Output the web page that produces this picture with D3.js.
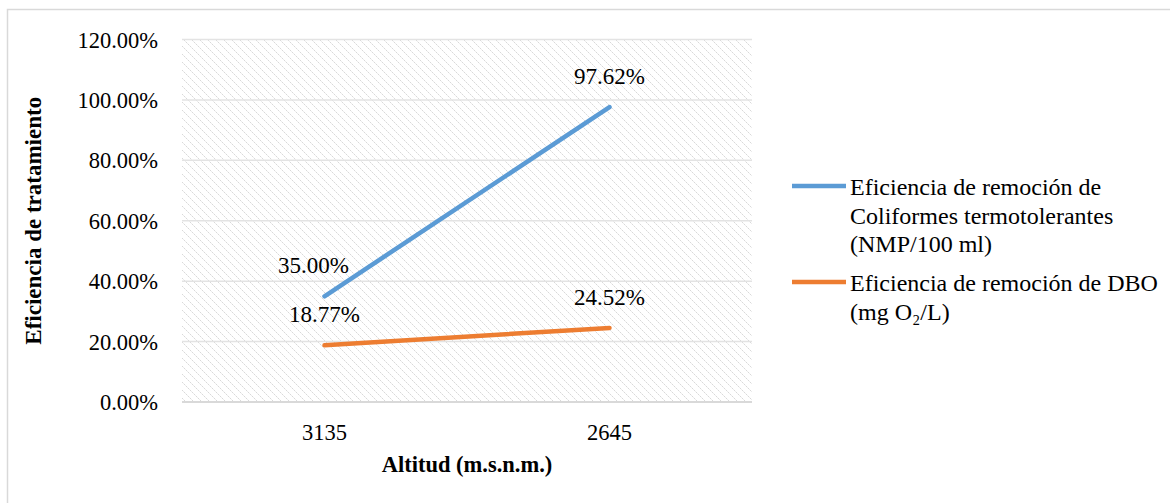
<!DOCTYPE html>
<html>
<head>
<meta charset="utf-8">
<script src="https://cdn.jsdelivr.net/npm/d3@7/dist/d3.min.js"></script>
<style>
  html, body { margin: 0; padding: 0; background: #fff; }
  svg text { font-family: "Liberation Serif", "Times New Roman", serif; fill: #000; }
</style>
</head>
<body>
<svg id="chart" width="1170" height="503"></svg>
<script>
// Altitude categories (m.s.n.m.)
const categories = ["3135", "2645"];
// Removal efficiency, in percent
const coliformes = [35.00, 97.62];
const dbo = [18.77, 24.52];
const seriesNames = [
  ["Eficiencia de remoción de", "Coliformes termotolerantes", "(NMP/100 ml)"],
  ["Eficiencia de remoción de DBO", "(mg O\u2082/L)"]
];
const seriesColors = ["#5b9bd5", "#ed7d31"];
const yTicks = [0, 20, 40, 60, 80, 100, 120];

const series = [
  { name: seriesNames[0], values: coliformes, color: seriesColors[0] },
  { name: seriesNames[1], values: dbo, color: seriesColors[1] }
];

const FS = 23;
const svg = d3.select("#chart");
const plot = { left: 182, right: 752, top: 39.5, bottom: 402 };

// Outer chart frame
svg.append("rect")
  .attr("x", 7.5).attr("y", 9.5)
  .attr("width", 1200).attr("height", 520)
  .attr("fill", "none").attr("stroke", "#d9d9d9").attr("stroke-width", 1.5);

// Light dotted downward-diagonal fill for the plot area
const defs = svg.append("defs");
const pat = defs.append("pattern")
  .attr("id", "hatch").attr("patternUnits", "userSpaceOnUse")
  .attr("width", 8).attr("height", 8);
for (let i = 0; i < 8; i++) {
  pat.append("rect").attr("x", i).attr("y", i).attr("width", 1).attr("height", 1)
    .attr("fill", i % 2 === 0 ? "#d9d9d9" : "#ececec");
}

const x = d3.scaleBand().domain(categories).range([plot.left, plot.right]);
const y = d3.scaleLinear().domain([0, 120]).range([plot.bottom, plot.top]);

svg.append("rect")
  .attr("x", plot.left).attr("y", plot.top)
  .attr("width", plot.right - plot.left).attr("height", plot.bottom - plot.top)
  .attr("fill", "url(#hatch)");

// Horizontal gridlines
svg.append("g").selectAll("line")
  .data(yTicks.filter(t => t > 0))
  .join("line")
  .attr("x1", plot.left).attr("x2", plot.right)
  .attr("y1", d => y(d)).attr("y2", d => y(d))
  .attr("stroke", "#e3e3e3").attr("stroke-width", 1.5);

// Category axis line
svg.append("line")
  .attr("x1", plot.left).attr("x2", plot.right)
  .attr("y1", y(0)).attr("y2", y(0))
  .attr("stroke", "#d9d9d9").attr("stroke-width", 2);

// Y axis labels
const yAxis = d3.axisLeft(y).tickValues(yTicks).tickSize(0).tickPadding(0)
  .tickFormat(d => d.toFixed(2) + "%");
const gy = svg.append("g").attr("transform", `translate(${plot.left - 24},0)`).call(yAxis)
  .attr("font-family", null).attr("font-size", null);
gy.select(".domain").remove();
gy.selectAll("text").style("font-size", "22.5px").attr("dy", "0.34em");

// X axis labels
const xAxis = d3.axisBottom(x).tickSize(0).tickPadding(0);
const gx = svg.append("g").attr("transform", `translate(0,${y(0) + 38})`).call(xAxis)
  .attr("font-family", null).attr("font-size", null);
gx.select(".domain").remove();
gx.selectAll("text").style("font-size", "22.5px").attr("dy", 0);

// Axis titles
svg.append("text")
  .attr("x", (plot.left + plot.right) / 2).attr("y", 472)
  .attr("text-anchor", "middle").style("font-weight", "bold").style("font-size", "22.5px")
  .text("Altitud (m.s.n.m.)");
svg.append("text")
  .attr("transform", `translate(41,${(plot.top + plot.bottom) / 2}) rotate(-90)`)
  .attr("text-anchor", "middle").style("font-weight", "bold").style("font-size", "23px")
  .text("Eficiencia de tratamiento");

// Series lines and value labels
const line = d3.line().x((d, i) => x(categories[i]) + x.bandwidth() / 2).y(d => y(d));
series.forEach((s, si) => {
  svg.append("path")
    .attr("d", line(s.values))
    .attr("fill", "none").attr("stroke", s.color)
    .attr("stroke-width", 4.5).attr("stroke-linecap", "round");
  svg.append("g").selectAll("text")
    .data(s.values)
    .join("text")
    .attr("x", (d, i) => x(categories[i]) + x.bandwidth() / 2 + (si === 0 && i === 0 ? -11 : 0))
    .attr("y", d => y(d) - 23)
    .attr("text-anchor", "middle").style("font-size", FS + "px")
    .text(d => d.toFixed(2) + "%");
});

// Legend
const legendTop = [186, 282];
series.forEach((s, si) => {
  const g = svg.append("g");
  g.append("line")
    .attr("x1", 792).attr("x2", 846)
    .attr("y1", legendTop[si]).attr("y2", legendTop[si])
    .attr("stroke", s.color).attr("stroke-width", 4.5);
  s.name.forEach((ln, li) => {
    g.append("text")
      .attr("x", 850).attr("y", legendTop[si] + 9 + li * 28.5)
      .style("font-size", "24px")
      .text(ln);
  });
});
</script>
</body>
</html>
